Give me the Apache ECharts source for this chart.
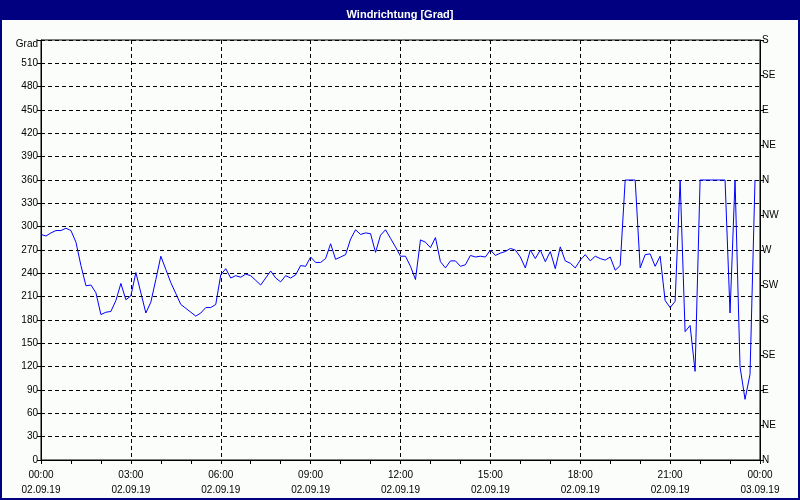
<!DOCTYPE html>
<html>
<head>
<meta charset="utf-8">
<script src="https://cdn.jsdelivr.net/npm/echarts@6/dist/echarts.min.js"></script>
<style>
html,body{margin:0;padding:0;background:#fbfdfb;}
#chart{width:800px;height:500px;}
</style>
</head>
<body>
<div id="chart"></div>
<script>
var chartTitle = 'Windrichtung [Grad]';
var stepMinutes = 10;
var directionValues = [
  290, 288, 292, 295, 295, 298, 295, 280, 250, 224,
  225, 215, 187, 190, 191, 205, 227, 206, 211, 241,
  215, 189, 203, 232, 262, 245, 228, 214, 200, 195,
  190, 185, 189, 196, 196, 200, 238, 246, 234, 237,
  235, 239, 237, 231, 225, 234, 243, 234, 229, 237,
  234, 238, 250, 249, 261, 254, 254, 259, 278, 258,
  261, 264, 284, 296, 290, 292, 291, 267, 289, 296,
  285, 274, 262, 262, 249, 232, 283, 280, 273, 286,
  255, 247, 256, 256, 249, 251, 263, 261, 262, 261,
  270, 263, 266, 268, 272, 270, 261, 247, 270, 259,
  270, 255, 268, 246, 274, 256, 253, 247, 257, 264,
  256, 262, 259, 257, 261, 244, 250, 360, 360, 360,
  247, 264, 265, 249, 262, 205, 196, 204, 360, 165,
  173, 114, 360, 360, 360, 360, 360, 360, 189, 360,
  120, 78, 110, 360
];
var compassLabels = ['N', 'NE', 'E', 'SE', 'S', 'SW', 'W', 'NW'];
var dateStart = '02.09.19';
var dateEnd = '03.09.19';
var leftTopLabel = 'Grad';

var seriesData = directionValues.map(function (v, i) { return [i * stepMinutes, v]; });
var fontFam = '"Liberation Sans Narrow", "Liberation Sans", Arial, sans-serif';

function pad(n) { return (n < 10 ? '0' : '') + n; }

var chart = echarts.init(document.getElementById('chart'), null, { renderer: 'canvas' });
chart.setOption({
  backgroundColor: '#fbfdfb',
  animation: false,
  graphic: [
    { type: 'rect', position: [0, 0], shape: { x: 0, y: 0, width: 800, height: 20 }, style: { fill: '#000080' }, z: -1, silent: true },
    { type: 'rect', position: [0, 0], shape: { x: 1, y: 1, width: 798, height: 498 }, style: { fill: 'none', stroke: '#000080', lineWidth: 2 }, z: 100, silent: true }
  ],
  title: {
    text: chartTitle,
    left: 'center',
    top: 4,
    textStyle: { color: '#ffffff', fontWeight: 'bold', fontSize: 11, fontFamily: fontFam }
  },
  grid: { left: 41, right: 40, top: 40, bottom: 40, show: true, borderColor: '#000', borderWidth: 1, backgroundColor: 'transparent' },
  xAxis: {
    type: 'value',
    min: 0, max: 1440, interval: 180,
    axisLine: { show: true, lineStyle: { color: '#000', width: 1 } },
    axisTick: { show: true, length: 4, lineStyle: { color: '#000' } },
    minorTick: { show: true, splitNumber: 3, length: 4, lineStyle: { color: '#000' } },
    splitLine: { show: true, lineStyle: { color: '#000', type: [4, 3], width: 1 } },
    axisLabel: {
      color: '#000', fontSize: 10, fontFamily: fontFam, lineHeight: 15, margin: 8,
      formatter: function (v) {
        var h = Math.floor(v / 60) % 24, m = v % 60;
        return pad(h) + ':' + pad(m) + '\n' + (v >= 1440 ? dateEnd : dateStart);
      }
    }
  },
  yAxis: [
    {
      type: 'value', min: 0, max: 540, interval: 30, position: 'left',
      axisLine: { show: true, lineStyle: { color: '#000' } },
      axisTick: { show: true, length: 4, lineStyle: { color: '#000' } },
      splitLine: { show: true, lineStyle: { color: '#000', type: [4, 3], width: 1 } },
      axisLabel: {
        color: '#000', fontSize: 10, fontFamily: fontFam, margin: 3,
        formatter: function (v) { return v === 540 ? '{g|' + leftTopLabel + '}' : String(v); },
        rich: { g: { fontSize: 10, fontFamily: fontFam, color: '#000', padding: [8, 0, 0, 0] } }
      }
    },
    {
      type: 'value', min: 0, max: 540, interval: 45, position: 'right',
      axisLine: { show: true, lineStyle: { color: '#000' } },
      axisTick: { show: true, length: 4, lineStyle: { color: '#000' } },
      splitLine: { show: false },
      axisLabel: {
        color: '#000', fontSize: 10, fontFamily: fontFam, margin: 2,
        formatter: function (v) { return compassLabels[Math.round((v % 360) / 45)]; }
      }
    }
  ],
  series: [{
    type: 'line',
    yAxisIndex: 0,
    data: seriesData,
    showSymbol: false,
    symbol: 'none',
    lineStyle: { color: '#0000ff', width: 1 },
    itemStyle: { color: '#0000ff' }
  }]
});
</script>
</body>
</html>
